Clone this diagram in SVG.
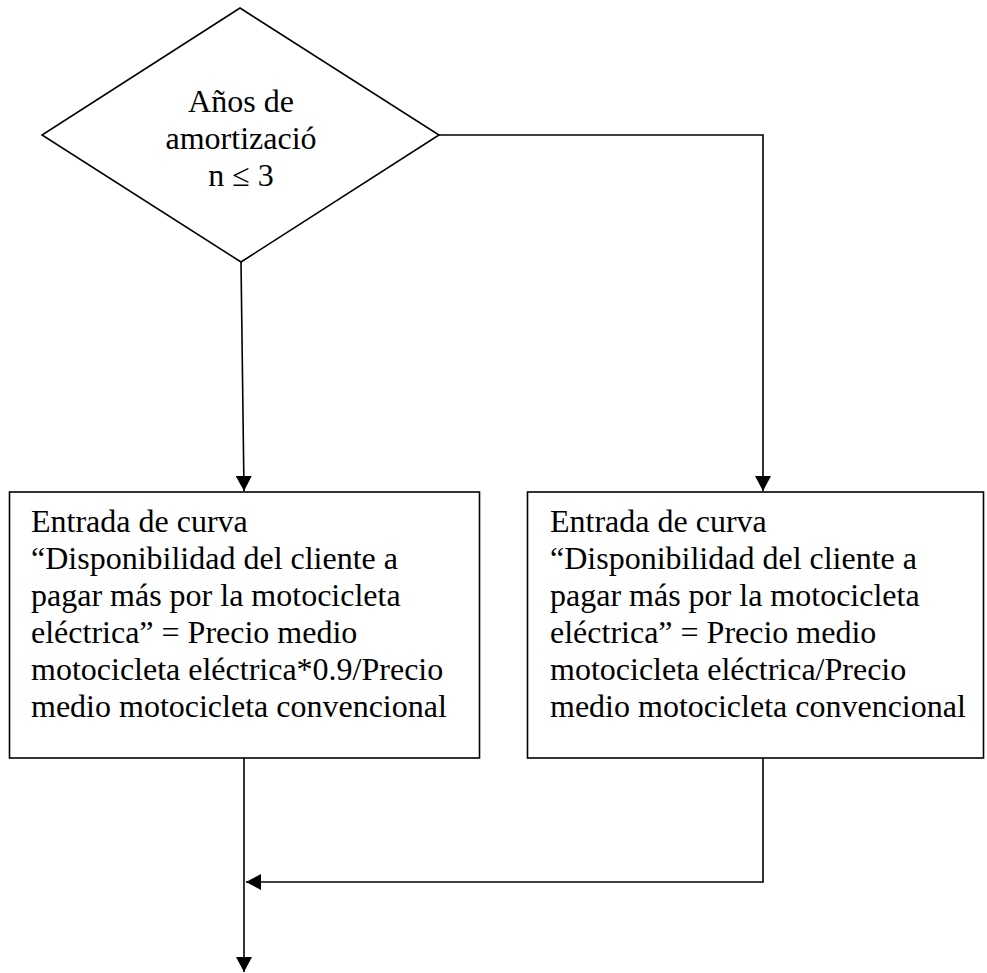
<svg xmlns="http://www.w3.org/2000/svg" width="987" height="973" viewBox="0 0 987 973">
<defs>
<style>
.shape{fill:#fff;stroke:#000;stroke-width:1.6}
.line{fill:none;stroke:#000;stroke-width:1.6}
.t{font-family:"Liberation Serif","Times New Roman",serif;font-size:32px;fill:#000}
</style>
<marker id="arr" markerWidth="16" markerHeight="16" refX="15" refY="8" orient="auto" markerUnits="userSpaceOnUse">
<path d="M0,0 L15,8 L0,16 Z" fill="#000"/>
</marker>
</defs>
<rect width="987" height="973" fill="#fff"/>
<g id="connectors">
<path class="line" d="M241,262 L244,491" marker-end="url(#arr)"/>
<path class="line" d="M439,135 L763,135 L763,491" marker-end="url(#arr)"/>
<path class="line" d="M763,758 L763,882 L246,882" marker-end="url(#arr)"/>
<path class="line" d="M244,758 L244,972" marker-end="url(#arr)"/>
</g>
<g id="decision">
<polygon class="shape" points="240,8 439,135 241,262 42,135"/>
<text class="t" text-anchor="middle"><tspan x="241" y="112">Años de</tspan><tspan x="241" y="149">amortizació</tspan><tspan x="241" y="186">n ≤ 3</tspan></text>
</g>
<g id="box-left">
<rect class="shape" x="9.5" y="492" width="470" height="266"/>
<text class="t"><tspan x="31" y="532">Entrada de curva</tspan><tspan x="31" y="569">“Disponibilidad del cliente a</tspan><tspan x="31" y="606">pagar más por la motocicleta</tspan><tspan x="31" y="643">eléctrica” = Precio medio</tspan><tspan x="31" y="680">motocicleta eléctrica*0.9/Precio</tspan><tspan x="31" y="717">medio motocicleta convencional</tspan></text>
</g>
<g id="box-right">
<rect class="shape" x="527.5" y="492" width="456" height="266"/>
<text class="t"><tspan x="550" y="532">Entrada de curva</tspan><tspan x="550" y="569">“Disponibilidad del cliente a</tspan><tspan x="550" y="606">pagar más por la motocicleta</tspan><tspan x="550" y="643">eléctrica” = Precio medio</tspan><tspan x="550" y="680">motocicleta eléctrica/Precio</tspan><tspan x="550" y="717">medio motocicleta convencional</tspan></text>
</g>
</svg>
